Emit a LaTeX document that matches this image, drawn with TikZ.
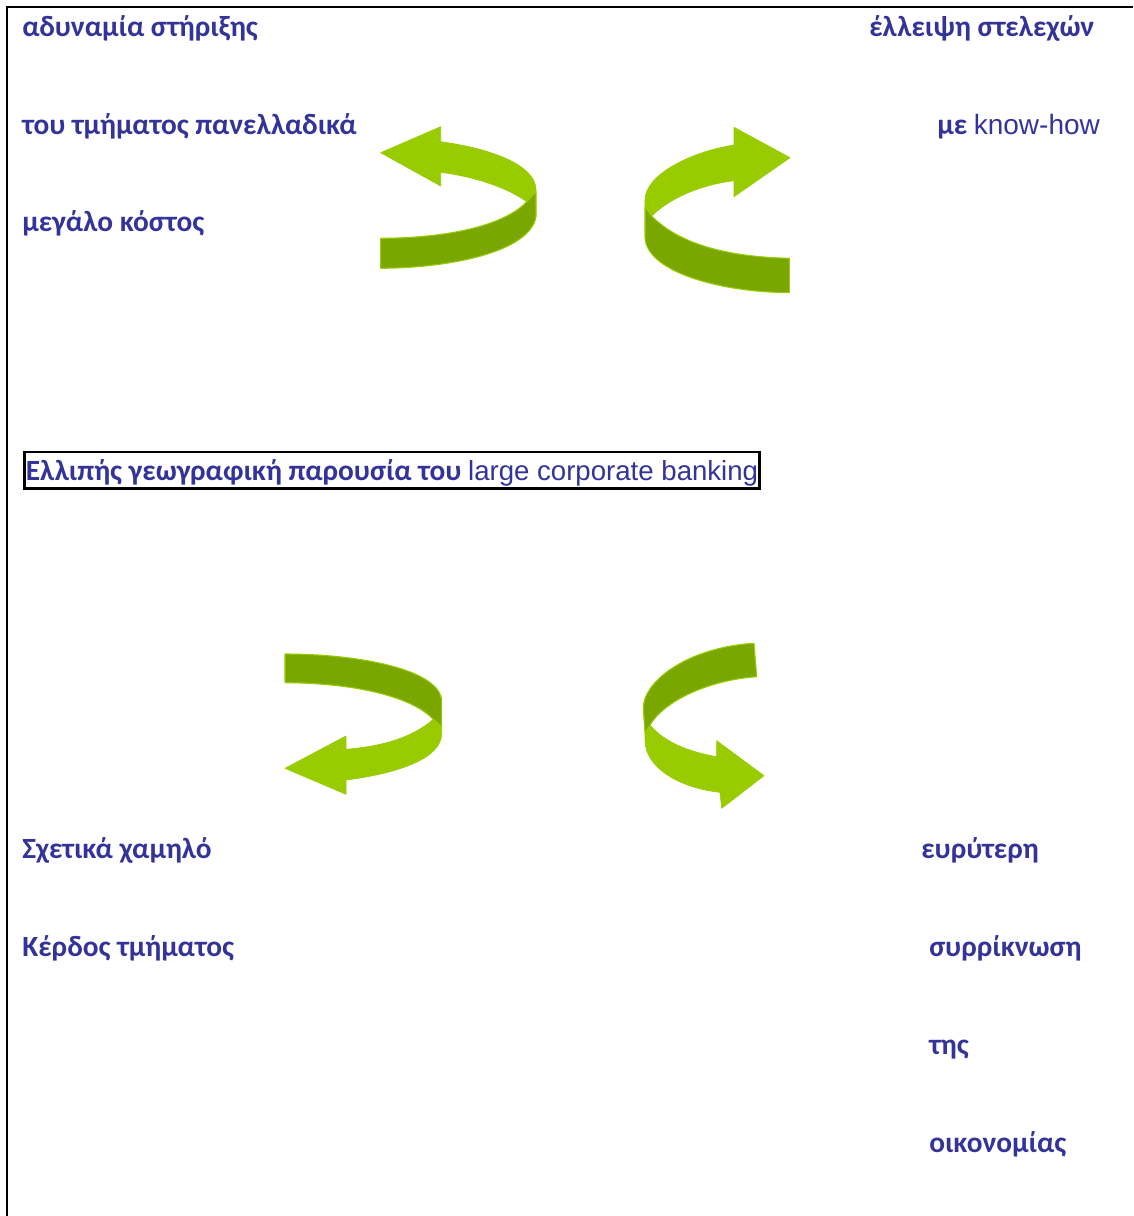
\documentclass[tikz,border=0pt]{standalone}
\usepackage{fontspec}
\newfontfamily\grk{Carlito}
\newfontfamily\lat{Liberation Sans}
\definecolor{txt}{RGB}{51,51,153}
\definecolor{lg}{RGB}{153,204,0}
\definecolor{dg}{RGB}{122,166,0}
\begin{document}
\begin{tikzpicture}[x=0.75pt,y=-0.75pt,
  lbl/.style={anchor=base west, inner sep=0pt, text=txt, font=\grk\bfseries\fontsize{22}{26}\selectfont},
  darkpart/.style={fill=dg, draw=lg, line width=0.8pt, line join=round},
  lightpart/.style={fill=lg, draw=lg, line width=0.5pt, line join=round}]
\useasboundingbox (0,0) rectangle (1133,1216);
\draw[line width=1.6pt] (7,1216) -- (7,7) -- (1133,7);

% top-left text
\node[lbl] (t1) at (22,37) {αδυναμία στήριξης};
\node[lbl] (t2) at (22,135) {του τμήματος πανελλαδικά};
\node[lbl] (t3) at (22,232) {μεγάλο κόστος};
% top-right text
\node[lbl] (r1) at (869,37) {έλλειψη στελεχών};
\node[lbl] (r2) at (937,135) {με {\lat\mdseries\fontsize{21}{25}\selectfont know-how}};
% middle box
\node[lbl, draw=black, line width=2pt, text height=21pt, text depth=6.5pt, inner xsep=1.2pt] (mid) at (23,480) {Ελλιπής γεωγραφική παρουσία του {\lat\mdseries\fontsize{20.7}{25}\selectfont large corporate banking}};
% bottom-left
\node[lbl] (b1) at (22,858) {Σχετικά χαμηλό};
\node[lbl] (b2) at (22,956) {Κέρδος τμήματος};
% bottom-right
\node[lbl] (c1) at (921,858) {ευρύτερη};
\node[lbl] (c2) at (929,956) {συρρίκνωση};
\node[lbl] (c3) at (929,1054) {της};
\node[lbl] (c4) at (929,1152) {οικονομίας};

% top-left arrow
\path[darkpart] (380.7,238.3) .. controls (450,238) and (505,225) .. (526.7,201.7)
  -- (536,191.7) -- (536,216.7) .. controls (530,252) and (450,268) .. (380.7,268.3) -- cycle;
\path[lightpart] (380.7,152.7) -- (440.7,126.7) -- (440.7,141.7)
  .. controls (500,150) and (536,168) .. (536,190) -- (536,192)
  -- (526.7,201.7) .. controls (505,186) and (470,176) .. (440.7,172.3)
  -- (440.7,186) -- cycle;

% top-right arrow
\path[darkpart] (651.7,216) .. controls (680,245) and (730,257) .. (789.3,258.3)
  -- (789.3,292.7) .. controls (715,292) and (645,270) .. (645,236.7) -- (645,206.7) -- cycle;
\path[lightpart] (790,157.7) -- (734,127.3) -- (734,145)
  .. controls (690,152) and (645,175) .. (645,200) -- (645,206.7)
  -- (651.7,216) .. controls (670,198) and (700,185) .. (734,180.7)
  -- (734,196.7) -- cycle;

% bottom-left arrow
\path[darkpart] (285,654) .. controls (360,654) and (441.7,670) .. (441.7,701.7)
  -- (441.7,727) -- (433.3,719.3) .. controls (410,695) and (350,683) .. (285,682.7) -- cycle;
\path[lightpart] (433.3,719.3) .. controls (410,740) and (375,747) .. (346,749.3)
  -- (346,736) -- (285,768.3) -- (346,794.3) -- (346,780)
  .. controls (400,773) and (441.7,758) .. (441.7,733.3) -- (441.7,726.7) -- cycle;

% bottom-right arrow
\path[darkpart] (754,643.3) .. controls (690,647) and (643.3,680) .. (643.3,708.3)
  -- (645,733.3) -- (650,725) .. controls (665,700) and (710,680) .. (756.7,676.7) -- cycle;
\path[lightpart] (650,725) .. controls (665,743) and (690,752) .. (716.7,756.7)
  -- (716.7,740.7) -- (764,775.7) -- (721.7,808.3) -- (720,792.3)
  .. controls (680,788) and (645,768) .. (645,740) -- (645,733.3) -- cycle;
\end{tikzpicture}
\end{document}
